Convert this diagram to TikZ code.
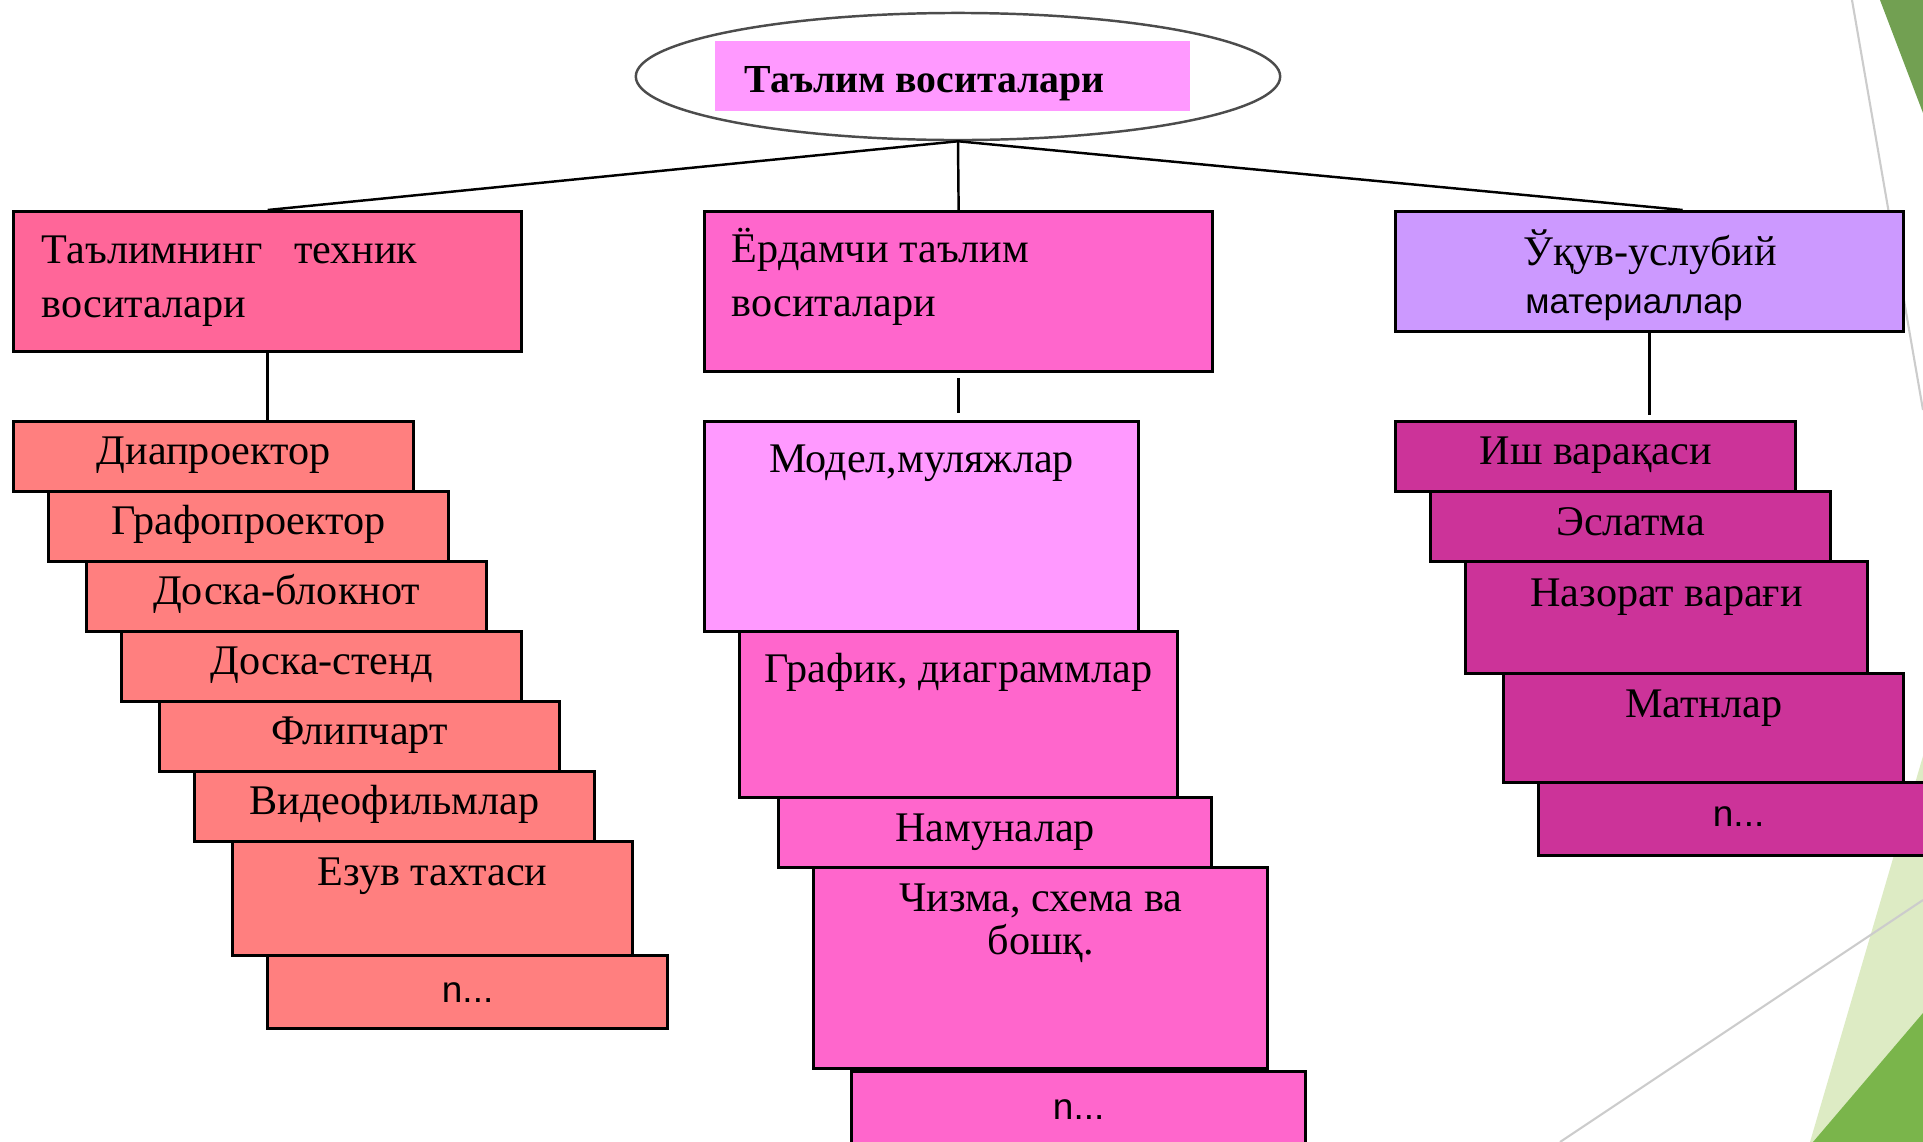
\documentclass[tikz,border=0pt]{standalone}
\usepackage{fontspec}
\setmainfont{Liberation Serif}
\newfontfamily\sansfont{Liberation Sans}
\usetikzlibrary{positioning, shapes.geometric, calc}

\definecolor{salmon}{HTML}{FF7F7F}
\definecolor{rose}{HTML}{FF6699}
\definecolor{orchid}{HTML}{FF66CC}
\definecolor{lilac}{HTML}{CC99FF}
\definecolor{candy}{HTML}{FF99FF}
\definecolor{plum}{HTML}{CC3399}
\definecolor{leafdark}{HTML}{72A052}
\definecolor{leaflight}{HTML}{DDEBC4}
\definecolor{leafmid}{HTML}{7AB54B}
\definecolor{streak}{HTML}{CCCCCC}

\begin{document}
\begin{tikzpicture}[
    x=0.01cm, y=-0.01cm, % one unit = one pixel of the slide
    % Styles
    box/.style={ % Coloured block
        rectangle,
        draw=black,
        line width=0.85pt,
        anchor=north west,
        inner sep=0pt,
        minimum height=0.7cm
    },
    techbox/.style={box, fill=salmon, minimum width=4cm},
    aidbox/.style={box, fill=orchid},
    methbox/.style={box, fill=plum, minimum width=4cm},
    txt/.style={ % Text set on its baseline
        anchor=base,
        inner sep=0pt,
        font=\fontsize{12}{14}\selectfont
    },
    head/.style={ % Two-line heading text, placed by its last line
        txt,
        anchor=base west,
        align=left,
        font=\fontsize{12}{15.3}\selectfont
    },
    etc/.style={txt, font=\sansfont\fontsize{10.5}{12}\selectfont},
    link/.style={
        draw=black,
        line width=0.7pt
    }
]
    \useasboundingbox (0,0) rectangle (1923,1142);
    \clip (0,0) rectangle (1923,1142);

    % Slide background strokes
    \fill[leafdark] (1880,0) -- (1923,0) -- (1923,113) -- cycle;
    \draw[streak, line width=0.6pt] (1852,0) -- (1923,410);
    \fill[leaflight] (1810,1142) -- (1923,756) -- (1923,1142) -- cycle;
    \draw[streak, line width=0.6pt] (1560,1142) -- (1923,900);
    \fill[leafmid] (1813,1142) -- (1923,1013) -- (1923,1142) -- cycle;

    % Root
    \node[ellipse, draw=gray!60!black, line width=0.7pt, fill=white,
          minimum width=6.44cm, minimum height=1.27cm, inner sep=0pt] (root) at (958,76.5) {};
    \node[fill=candy, anchor=north west, inner sep=0pt,
          minimum width=4.75cm, minimum height=0.7cm] (title) at (714,40) {};
    \node[txt, anchor=base west, font=\bfseries\fontsize{11.3}{14}\selectfont] (titleT) at (744,92) {Таълим воситалари};

    % Three groups
    \node[box, fill=rose, minimum width=5.08cm, minimum height=1.40cm] (tech) at (12,210) {};
    \node[box, fill=orchid, minimum width=5.08cm, minimum height=1.60cm] (aid) at (703,210) {};
    \node[box, fill=lilac, minimum width=5.08cm, minimum height=1.20cm] (meth) at (1394,210) {};

    \node[head] (techT) at (41,317) {Таълимнинг~~~техник\\воситалари};
    \node[head] (aidT) at (731,316) {Ёрдамчи таълим\\воситалари};
    \node[txt] (methT) at (1650,265) {Ўқув-услубий};
    \node[txt, font=\sansfont\fontsize{10}{12}\selectfont] (methU) at (1634,313) {материаллар};

    % Technical means
    \node[techbox] (dia) at (12,420) {};
    \node[techbox] (grafo) at (47,490) {};
    \node[techbox] (dblok) at (85,560) {};
    \node[techbox] (dstend) at (120,630) {};
    \node[techbox] (flip) at (158,700) {};
    \node[techbox] (video) at (193,770) {};
    \node[techbox, minimum height=1.14cm] (ezuv) at (231,840) {};
    \node[techbox, minimum height=0.73cm] (techn) at (266,954) {};

    \node[txt] (diaT) at ([yshift=-0.44cm]dia.north) {Диапроектор};
    \node[txt] (grafoT) at ([yshift=-0.44cm]grafo.north) {Графопроектор};
    \node[txt] (dblokT) at ([yshift=-0.44cm]dblok.north) {Доска-блокнот};
    \node[txt] (dstendT) at ([yshift=-0.44cm]dstend.north) {Доска-стенд};
    \node[txt] (flipT) at ([yshift=-0.44cm]flip.north) {Флипчарт};
    \node[txt] (videoT) at ([yshift=-0.44cm]video.north) {Видеофильмлар};
    \node[txt] (ezuvT) at ([yshift=-0.45cm]ezuv.north) {Езув тахтаси};
    \node[etc] (technT) at ([yshift=-0.48cm]techn.north) {n...};

    % Auxiliary means
    \node[aidbox, fill=candy, minimum width=4.34cm, minimum height=2.10cm] (model) at (703,420) {};
    \node[aidbox, minimum width=4.38cm, minimum height=1.66cm] (grafik) at (738,630) {};
    \node[aidbox, minimum width=4.33cm] (namuna) at (777,796) {};
    \node[aidbox, minimum width=4.54cm, minimum height=2.01cm] (chizma) at (812,866) {};
    \node[aidbox, minimum width=4.54cm, minimum height=1.2cm] (aidn) at (850,1070) {};

    \node[txt] (modelT) at ([yshift=-0.52cm]model.north) {Модел,муляжлар};
    \node[txt] (grafikT) at ([yshift=-0.52cm]grafik.north) {График, диаграммлар};
    \node[txt] (namunaT) at ([yshift=-0.45cm]namuna.north) {Намуналар};
    \node[txt, align=center, font=\fontsize{12}{12.2}\selectfont] (chizmaT) at ([yshift=-0.88cm]chizma.north) {Чизма, схема ва\\бошқ.};
    \node[etc] (aidnT) at ([yshift=-0.49cm]aidn.north) {n...};

    % Methodical materials
    \node[methbox] (ish) at (1394,420) {};
    \node[methbox] (eslat) at (1429,490) {};
    \node[methbox, minimum width=4.02cm, minimum height=1.12cm] (nazorat) at (1464,560) {};
    \node[methbox, minimum height=1.09cm] (matn) at (1502,672) {};
    \node[methbox, minimum height=0.73cm] (methn) at (1537,781) {};

    \node[txt] (ishT) at ([yshift=-0.44cm]ish.north) {Иш варақаси};
    \node[txt] (eslatT) at ([yshift=-0.45cm]eslat.north) {Эслатма};
    \node[txt] (nazoratT) at ([yshift=-0.46cm]nazorat.north) {Назорат варағи};
    \node[txt] (matnT) at ([yshift=-0.45cm]matn.north) {Матнлар};
    \node[etc] (methnT) at ([yshift=-0.45cm]methn.north) {n...};

    % Connectors
    \draw[link] (root.south) -- (tech.north);
    \draw[link] (root.south) -- (aid.north);
    \draw[link] (root.south) -- ([xshift=0.33cm]meth.north);
    \draw[link] (tech.south) -- (tech.south |- dia.north);
    \draw[link, shorten <=0.05cm, shorten >=0.07cm] (aid.south) -- (aid.south |- model.north);
    \draw[link, shorten >=0.05cm] (meth.south) -- (meth.south |- ish.north);
\end{tikzpicture}
\end{document}
